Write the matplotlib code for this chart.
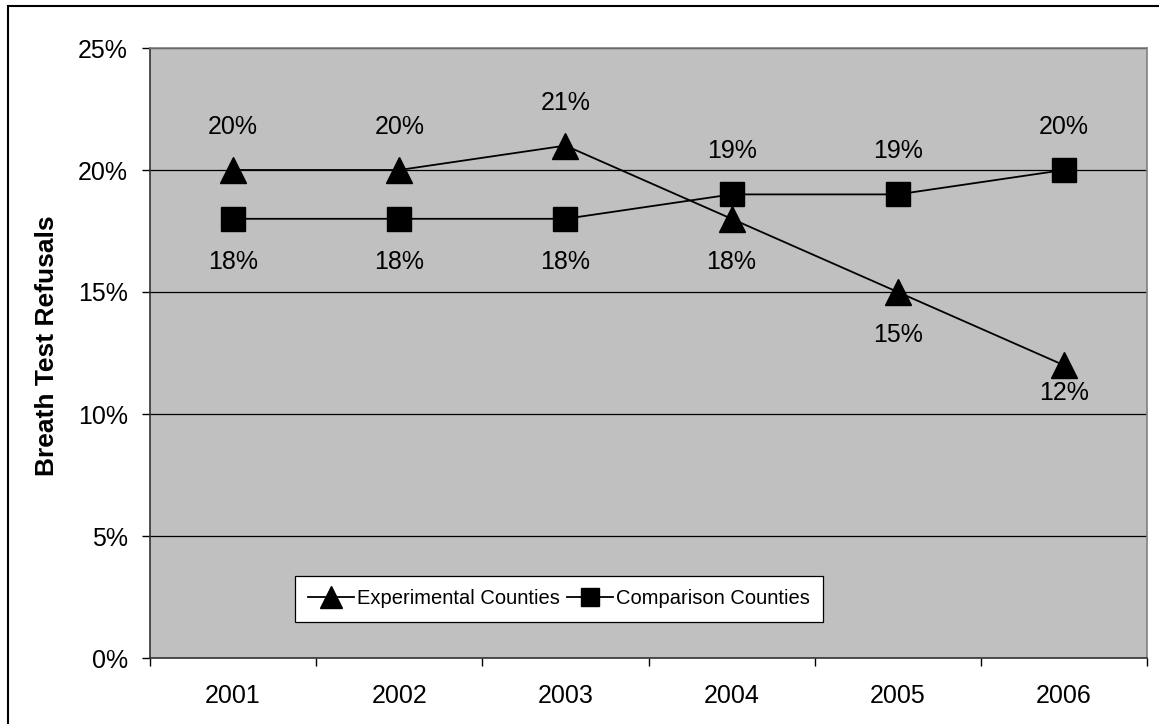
import numpy as np
import matplotlib.pyplot as plt
from matplotlib.patches import Rectangle
from matplotlib.ticker import FixedLocator

plt.rcParams['font.family'] = ['Liberation Sans', 'DejaVu Sans']

years = ['2001', '2002', '2003', '2004', '2005', '2006']
experimental = [20, 20, 21, 18, 15, 12]
comparison = [18, 18, 18, 19, 19, 20]
# label above (+1) or below (-1) each point
exp_pos = [1, 1, 1, -1, -1, -0.65]
comp_pos = [-1, -1, -1, 1, 1, 1]

W, H = 1159, 724
FS = 18
fig = plt.figure(figsize=(W / 100, H / 100), dpi=100)
ax = fig.add_axes([150 / W, (H - 658) / H, (1147 - 150) / W, (658 - 48) / H])
ax.set_facecolor('#C0C0C0')

x = np.arange(len(years))
ax.plot(x, experimental, color='black', lw=1.3, marker='^', markersize=19,
        label='Experimental Counties', zorder=3)
ax.plot(x, comparison, color='black', lw=1.3, marker='s', markersize=17,
        label='Comparison Counties', zorder=3)

for xi, v, p in zip(x, experimental, exp_pos):
    ax.annotate(f'{v}%', (xi, v), xytext=(0, 31 * p), textcoords='offset points',
                ha='center', va='center', fontsize=FS)
for xi, v, p in zip(x, comparison, comp_pos):
    ax.annotate(f'{v}%', (xi, v), xytext=(0, 31 * p), textcoords='offset points',
                ha='center', va='center', fontsize=FS)

ax.set_xlim(-0.5, 5.5)
ax.set_ylim(0, 25)
ax.set_yticks(np.arange(0, 26, 5))
ax.set_yticklabels([f'{v}%' for v in range(0, 26, 5)], fontsize=FS)
ax.yaxis.grid(True, color='black', lw=0.9)
ax.set_axisbelow(True)
ax.tick_params(axis='y', length=6, width=1, pad=10, direction='out')

ax.set_xticks(x)
ax.set_xticklabels(years, fontsize=FS)
ax.tick_params(axis='x', which='major', length=0, pad=19)
ax.xaxis.set_minor_locator(FixedLocator(np.arange(-0.5, 6, 1)))
ax.tick_params(axis='x', which='minor', length=6, width=1, direction='out')

for s in ['left', 'bottom']:
    ax.spines[s].set_color('#333333')
    ax.spines[s].set_linewidth(1.2)
for s in ['top', 'right']:
    ax.spines[s].set_color('#808080')
    ax.spines[s].set_linewidth(1.2)

fig.text(47 / W, (H - 346) / H, 'Breath Test Refusals', rotation=90,
         ha='center', va='center', fontsize=19, fontweight='bold')

leg = ax.legend(loc='center', bbox_to_anchor=((559 - 150) / 997, (658 - 599) / 610),
                ncol=2, fontsize=14.5, frameon=True, fancybox=False,
                handlelength=2.3, handletextpad=0.15, columnspacing=0.35,
                borderpad=0.65, markerscale=0.8)
leg.get_frame().set_edgecolor('black')
leg.get_frame().set_facecolor('white')
leg.get_frame().set_linewidth(0.9)
leg.get_frame().set_alpha(1)

fig.patches.append(Rectangle((8 / W, -0.1), 1.2, (H - 6) / H + 0.1,
                             transform=fig.transFigure, fill=False,
                             edgecolor='black', lw=1.5))

fig.savefig('out.png', dpi=100)
